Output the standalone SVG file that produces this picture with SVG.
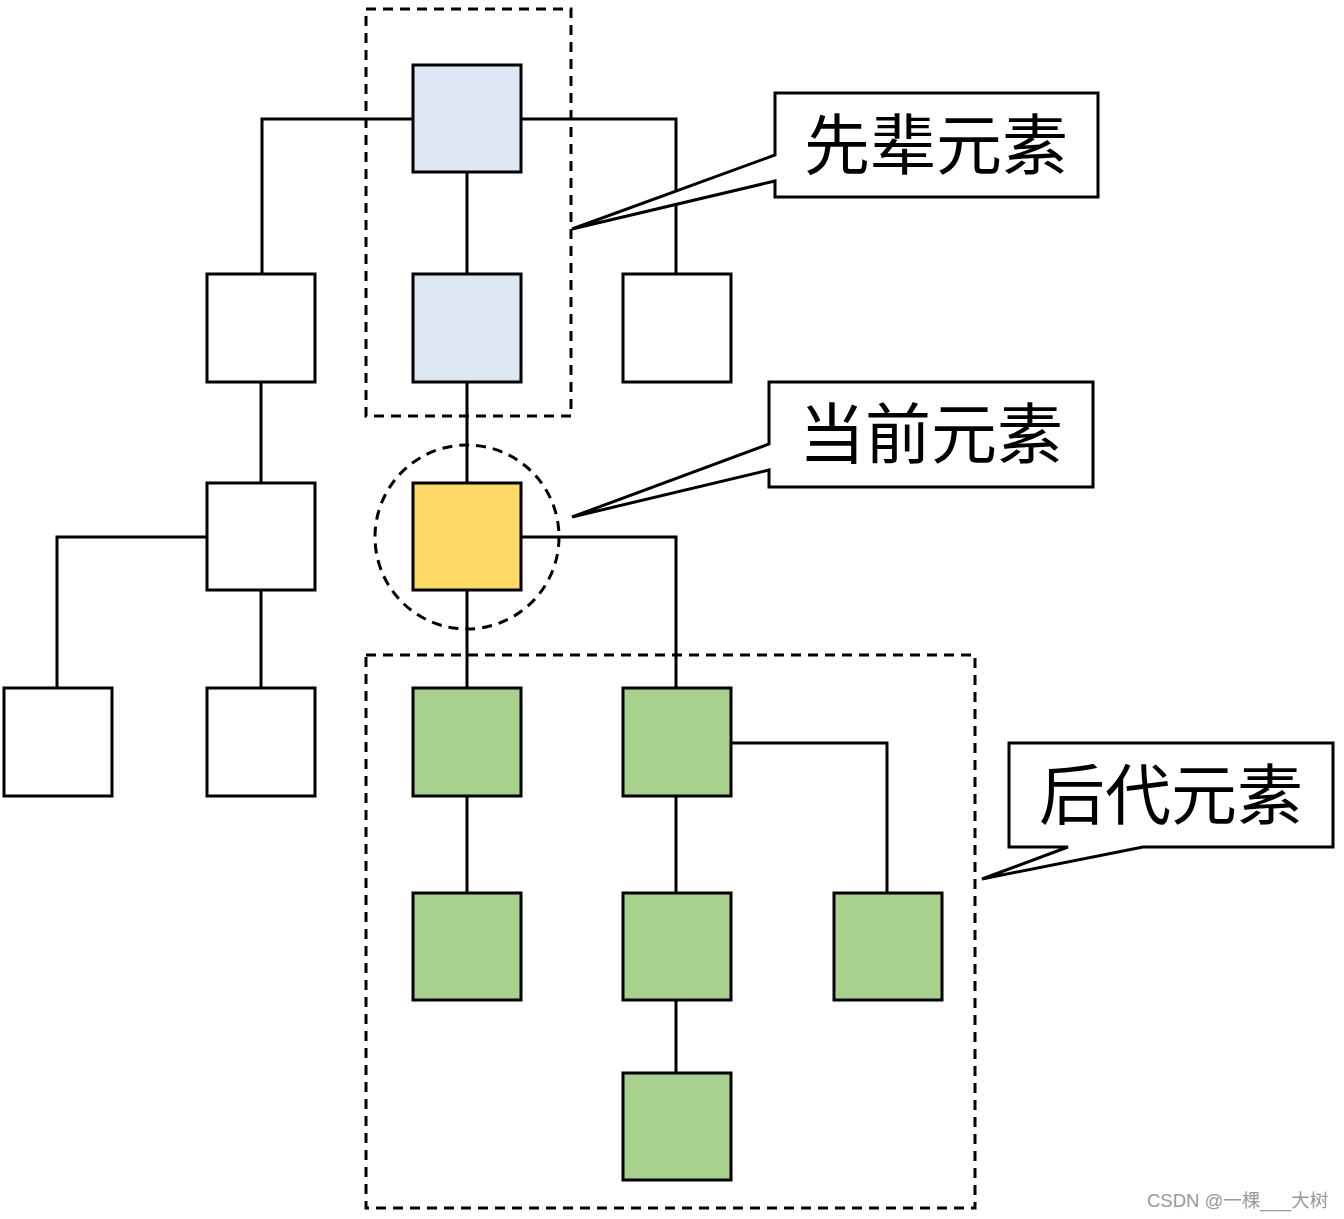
<svg xmlns="http://www.w3.org/2000/svg" width="1344" height="1219" viewBox="0 0 1344 1219">
<style>
.n{stroke:#000;stroke-width:3}
.w{fill:#fff}
.b{fill:#dee8f4}
.y{fill:#ffd966}
.g{fill:#a9d18e}
.c{fill:none;stroke:#000;stroke-width:3}
.d{fill:none;stroke:#000;stroke-width:3;stroke-dasharray:10 7}
.call{fill:#fff;stroke:#000;stroke-width:3}
.t{font-family:"Noto Sans CJK SC","Microsoft YaHei",sans-serif;font-size:66px;fill:#000}
.wm{font-family:"Liberation Sans","Noto Sans CJK SC",sans-serif;font-size:18.5px;fill:#999}
</style>
<rect width="1344" height="1219" fill="#fff"/>
<g id="connectors">
<path class="c" d="M413,119 H262 V274"/>
<path class="c" d="M521,119 H676 V274"/>
<path class="c" d="M467,172 V274"/>
<path class="c" d="M467,382 V483"/>
<path class="c" d="M261,382 V483"/>
<path class="c" d="M207,537 H57 V688"/>
<path class="c" d="M261,590 V688"/>
<path class="c" d="M467,590 V688"/>
<path class="c" d="M521,537 H676 V688"/>
<path class="c" d="M731,743 H887 V893"/>
<path class="c" d="M467,796 V893"/>
<path class="c" d="M676,796 V893"/>
<path class="c" d="M676,1000 V1073"/>
</g>
<g id="n1"><rect class="n b" x="413" y="65" width="108" height="107"/></g>
<g id="n2"><rect class="n w" x="207" y="274" width="108" height="108"/></g>
<g id="n3"><rect class="n b" x="413" y="274" width="108" height="108"/></g>
<g id="n4"><rect class="n w" x="623" y="274" width="108" height="108"/></g>
<g id="n5"><rect class="n w" x="207" y="483" width="108" height="107"/></g>
<g id="n6"><rect class="n y" x="413" y="483" width="108" height="107"/></g>
<g id="n7"><rect class="n w" x="4" y="688" width="108" height="108"/></g>
<g id="n8"><rect class="n w" x="207" y="688" width="108" height="108"/></g>
<g id="n9"><rect class="n g" x="413" y="688" width="108" height="108"/></g>
<g id="n10"><rect class="n g" x="623" y="688" width="108" height="108"/></g>
<g id="n11"><rect class="n g" x="413" y="893" width="108" height="107"/></g>
<g id="n12"><rect class="n g" x="623" y="893" width="108" height="107"/></g>
<g id="n13"><rect class="n g" x="834" y="893" width="108" height="107"/></g>
<g id="n14"><rect class="n g" x="623" y="1073" width="108" height="107"/></g>
<g id="groups">
<rect class="d" x="366" y="9" width="205" height="407"/>
<circle class="d" cx="467" cy="537" r="92"/>
<rect class="d" x="366" y="655" width="609" height="553"/>
</g>
<g id="callout-ancestor">
<path class="call" d="M775,93 H1098 V197 H775 V181 L572,229 L775,155 Z"/>
<text class="t" x="936" y="169" text-anchor="middle">先辈元素</text>
</g>
<g id="callout-current">
<path class="call" d="M769,382 H1093 V487 H769 V470 L572,517 L769,444 Z"/>
<text class="t" x="931" y="458" text-anchor="middle">当前元素</text>
</g>
<g id="callout-descendant">
<path class="call" d="M1009,743 H1333 V847 H1143 L982,879 L1068,847 H1009 Z"/>
<text class="t" x="1171" y="819" text-anchor="middle">后代元素</text>
</g>
<text class="wm" x="1147" y="1207">CSDN @一棵___大树</text>
</svg>
